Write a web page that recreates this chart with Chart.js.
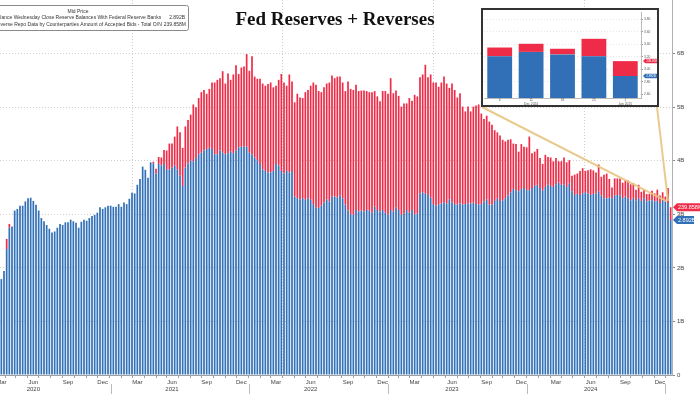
<!DOCTYPE html>
<html>
<head>
<meta charset="utf-8">
<script src="https://cdn.jsdelivr.net/npm/chart.js@4.4.1/dist/chart.umd.min.js"></script>
<style>
html, body { margin: 0; padding: 0; background: #fff; }
#wrap { position: relative; width: 700px; height: 394px; overflow: hidden; }
#main { position: absolute; left: 0; top: 0; }
#insetBox { position: absolute; left: 481px; top: 8px; width: 174px; height: 95px; border: 2px solid #333; background: #fff; }
#inset { display: block; }
</style>
</head>
<body>
<div id="wrap">
  <canvas id="main" width="700" height="394" style="width:700px;height:394px"></canvas>
  <div id="insetBox"><canvas id="inset" width="174" height="95" style="width:174px;height:95px"></canvas></div>
</div>
<script>
// weekly Wednesday values, first week 2020-03-11
const firstWeek = Date.UTC(2020, 2, 11);

// reserve balances with Federal Reserve Banks
const reserves = [
  1.79, 1.94, 2.35, 2.75, 2.77, 3.07, 3.10, 3.16, 3.16, 3.24,
  3.30, 3.31, 3.25, 3.18, 3.07, 2.93, 2.87, 2.80, 2.73, 2.66,
  2.68, 2.75, 2.82, 2.80, 2.85, 2.85, 2.90, 2.87, 2.84, 2.75,
  2.86, 2.90, 2.88, 2.93, 2.97, 2.99, 3.03, 3.13, 3.10, 3.13,
  3.16, 3.16, 3.14, 3.14, 3.19, 3.14, 3.22, 3.19, 3.29, 3.40,
  3.39, 3.55, 3.66, 3.89, 3.83, 3.68, 3.97, 3.95, 3.76, 3.94,
  3.91, 3.94,
  3.83, 3.84, 3.87, 3.91, 3.84, 3.72, 3.53, 3.87, 3.95, 4.00,
  3.99, 4.05, 4.12, 4.15, 4.19, 4.22, 4.24, 4.22, 4.12, 4.12,
  4.19, 4.15, 4.12, 4.14, 4.17, 4.14, 4.19, 4.25, 4.26, 4.26,
  4.26, 4.15, 4.12, 4.06, 4.01, 3.94, 3.84, 3.81, 3.78, 3.78,
  3.81, 3.94, 3.91, 3.81, 3.76, 3.81, 3.78, 3.81, 3.33, 3.30,
  3.28, 3.30, 3.27, 3.30, 3.27, 3.19, 3.12, 3.12, 3.16, 3.22,
  3.28, 3.24,
  3.33, 3.33, 3.31, 3.35, 3.30, 3.18, 3.07, 3.00, 2.99, 3.08,
  3.05, 3.07, 3.05, 3.08, 3.07, 3.03, 3.14, 3.08, 3.05, 3.08,
  3.03, 2.99, 3.08, 3.05, 3.12, 3.08, 2.99, 3.01, 3.08, 3.03,
  3.08, 3.00, 3.01, 3.39, 3.41, 3.39, 3.36, 3.31, 3.19, 3.16,
  3.18, 3.20, 3.22, 3.20, 3.28, 3.22, 3.19, 3.18, 3.20, 3.18,
  3.19, 3.20, 3.20, 3.22, 3.19, 3.18, 3.19, 3.24, 3.28, 3.18,
  3.18, 3.25,
  3.30, 3.25, 3.26, 3.30, 3.35, 3.41, 3.47, 3.45, 3.43, 3.47,
  3.49, 3.45, 3.45, 3.49, 3.53, 3.55, 3.49, 3.44, 3.51, 3.55,
  3.53, 3.51, 3.56, 3.59, 3.55, 3.55, 3.51, 3.58, 3.43, 3.36,
  3.38, 3.36, 3.39, 3.41, 3.39, 3.36, 3.38, 3.39, 3.43, 3.35,
  3.30, 3.30, 3.31, 3.30, 3.35, 3.36, 3.35, 3.30, 3.33, 3.30,
  3.26, 3.30, 3.26, 3.30, 3.25, 3.30, 3.24, 3.26, 3.26, 3.24,
  3.25, 3.21, 3.28, 3.24, 3.21, 2.892
];

// reverse repo, overnight accepted bids
const reverseRepo = [
  0, 0, 0.19, 0.07, 0, 0, 0, 0, 0, 0,
  0, 0, 0, 0, 0, 0, 0, 0, 0, 0,
  0, 0, 0, 0, 0, 0, 0, 0, 0, 0,
  0, 0, 0, 0, 0, 0, 0, 0, 0, 0,
  0, 0, 0, 0, 0, 0, 0, 0, 0, 0,
  0, 0, 0, 0, 0, 0, 0, 0.03, 0.09, 0.13,
  0.15, 0.26,
  0.36, 0.48, 0.45, 0.54, 0.80, 0.81, 0.71, 0.77, 0.81, 0.86,
  1.06, 0.95, 1.05, 1.13, 1.13, 1.03, 1.10, 1.24, 1.34, 1.39,
  1.35, 1.52, 1.32, 1.49, 1.34, 1.47, 1.59, 1.37, 1.48, 1.50,
  1.73, 1.53, 1.83, 1.51, 1.52, 1.59, 1.60, 1.59, 1.65, 1.68,
  1.56, 1.46, 1.60, 1.81, 1.70, 1.59, 1.83, 1.67, 1.76, 1.95,
  1.90, 1.87, 2.01, 2.02, 2.13, 2.27, 2.30, 2.18, 2.12, 2.15,
  2.16, 2.22,
  2.26, 2.21, 2.26, 2.22, 2.16, 2.12, 2.41, 2.34, 2.33, 2.34,
  2.25, 2.24, 2.26, 2.22, 2.21, 2.25, 2.16, 2.12, 2.06, 2.22,
  2.27, 2.26, 2.46, 2.21, 2.19, 2.13, 2.02, 2.06, 1.99, 2.14,
  2.04, 2.23, 2.19, 2.17, 2.20, 2.40, 2.20, 2.30, 2.27, 2.30,
  2.20, 2.26, 2.35, 2.24, 2.08, 2.22, 2.13, 2.00, 2.06, 1.83,
  1.73, 1.81, 1.72, 1.79, 1.84, 1.87, 1.69, 1.54, 1.56, 1.55,
  1.49, 1.32,
  1.23, 1.22, 1.13, 1.06, 1.04, 0.99, 0.85, 0.86, 0.74, 0.84,
  0.77, 0.80, 1.00, 0.65, 0.64, 0.67, 0.56, 0.50, 0.60, 0.52,
  0.53, 0.48, 0.49, 0.40, 0.44, 0.51, 0.46, 0.43, 0.29, 0.38,
  0.38, 0.45, 0.47, 0.40, 0.43, 0.48, 0.44, 0.39, 0.50, 0.35,
  0.44, 0.46, 0.35, 0.20, 0.32, 0.31, 0.32, 0.29, 0.30, 0.33,
  0.30, 0.28, 0.20, 0.25, 0.17, 0.16, 0.14, 0.12, 0.18, 0.15,
  0.21, 0.14, 0.13, 0.09, 0.28, 0.239858
];

const yTicks = [0, 1, 2, 3, 4, 5, 6];
const insetTicks = [2.6, 2.8, 3.0, 3.2, 3.4, 3.6, 3.8];
const monthNames = ['Jan','Feb','Mar','Apr','May','Jun','Jul','Aug','Sep','Oct','Nov','Dec'];
const quarterMonths = [2, 5, 8, 11];

const BLUE = '#3170b6';
const RED = '#ee2c47';
const TAN = 'rgba(232, 196, 128, 0.9)';

Chart.defaults.font.family = "'Liberation Sans', Arial, sans-serif";
Chart.defaults.color = '#444';

const weeks = reserves.map((v, i) => new Date(firstWeek + i * 7 * 86400000));
const labels = weeks.map(d => d.toISOString().slice(0, 10));

function isMonthStart(i) {
  return i === 0 || weeks[i].getUTCMonth() !== weeks[i - 1].getUTCMonth();
}
function isQuarterStart(i) {
  return isMonthStart(i) && quarterMonths.includes(weeks[i].getUTCMonth());
}

const lastIdx = reserves.length - 1;
const fmtRes = reserves[lastIdx].toFixed(3) + 'B';
const fmtRrp = (reverseRepo[lastIdx] * 1000).toFixed(3) + 'M';

function drawFlag(ctx, x, y, w, h, text, color, size) {
  ctx.save();
  ctx.fillStyle = color;
  ctx.beginPath();
  ctx.moveTo(x, y);
  ctx.lineTo(x + h / 2, y - h / 2);
  ctx.lineTo(x + w, y - h / 2);
  ctx.lineTo(x + w, y + h / 2);
  ctx.lineTo(x + h / 2, y + h / 2);
  ctx.closePath();
  ctx.fill();
  ctx.fillStyle = '#fff';
  ctx.font = size + "px 'Liberation Sans', Arial";
  ctx.textAlign = 'left';
  ctx.textBaseline = 'middle';
  ctx.fillText(text, x + h / 2 + 1, y + 0.5);
  ctx.restore();
}

const mainDecor = {
  id: 'mainDecor',
  afterDraw(chart) {
    const ctx = chart.ctx;
    const xs = chart.scales.x, ys = chart.scales.y;
    const area = chart.chartArea;

    // year separators and callout lines
    ctx.save();
    ctx.strokeStyle = '#bbb';
    ctx.lineWidth = 1;
    weeks.forEach((d, i) => {
      if (i > 0 && d.getUTCMonth() === 0 && isMonthStart(i)) {
        const x = Math.round(xs.getPixelForValue(i) - xs.width / labels.length / 2) - 3.5;
        ctx.beginPath();
        ctx.moveTo(x, area.bottom + 9);
        ctx.lineTo(x, 394);
        ctx.stroke();
      }
    });
    ctx.strokeStyle = TAN;
    ctx.lineWidth = 2;
    const ax = xs.getPixelForValue(lastIdx - 1);
    const ay = ys.getPixelForValue(3.25);
    ctx.beginPath();
    ctx.moveTo(482, 107); ctx.lineTo(ax - 2, ay);
    ctx.moveTo(657, 107); ctx.lineTo(ax, ay);
    ctx.stroke();
    ctx.restore();

    // title
    ctx.save();
    ctx.fillStyle = '#111';
    ctx.font = "bold 19px 'Liberation Serif', 'Times New Roman', serif";
    ctx.textAlign = 'center';
    ctx.textBaseline = 'middle';
    ctx.fillText('Fed Reserves + Reverses', 335, 20);
    ctx.restore();

    // legend box
    ctx.save();
    ctx.fillStyle = '#fff';
    ctx.strokeStyle = '#8a8a8a';
    ctx.lineWidth = 1;
    ctx.beginPath();
    ctx.roundRect(-30.5, 5.5, 219, 25, 2);
    ctx.fill();
    ctx.stroke();
    ctx.fillStyle = '#333';
    ctx.font = "5px 'Liberation Sans', Arial";
    ctx.textBaseline = 'middle';
    ctx.textAlign = 'center';
    ctx.fillText('Mid Price', 78, 12);
    ctx.textAlign = 'right';
    ctx.fillText(fmtRes, 185, 18);
    ctx.fillText('Balance Wednesday Close Reserve Balances With Federal Reserve Banks', 185 - ctx.measureText(fmtRes).width - 8, 18);
    ctx.fillText(fmtRrp, 186, 24.5);
    ctx.fillText('Reverse Repo Data by Counterparties Amount of Accepted Bids - Total O/N', 186 - ctx.measureText(fmtRrp).width - 2, 24.5);
    ctx.restore();

    // last value flags
    drawFlag(ctx, 673, ys.getPixelForValue(reserves[lastIdx] + reverseRepo[lastIdx]), 27, 8, fmtRrp, RED, 5.5);
    drawFlag(ctx, 673, ys.getPixelForValue(reserves[lastIdx]), 21, 8, fmtRes, BLUE, 5.5);
  }
};

new Chart(document.getElementById('main'), {
  type: 'bar',
  data: {
    labels: labels,
    datasets: [
      { label: 'Reserve Balances', data: reserves, backgroundColor: BLUE },
      { label: 'Reverse Repo', data: reverseRepo, backgroundColor: RED }
    ]
  },
  options: {
    responsive: false,
    animation: false,
    events: [],
    layout: { padding: 0 },
    datasets: { bar: { categoryPercentage: 1, barPercentage: 0.64 } },
    plugins: { legend: { display: false }, tooltip: { enabled: false } },
    scales: {
      x: {
        stacked: true,
        grid: {
          color: c => (c.index !== undefined && isQuarterStart(c.index)) ? '#cfcfcf' : 'rgba(0,0,0,0)',
          tickColor: '#a0a0a0',
          tickLength: 3
        },
        border: { color: '#a0a0a0', dash: [1, 2] },
        ticks: {
          autoSkip: false,
          maxRotation: 0,
          padding: 1,
          font: { size: 6 },
          color: '#444',
          callback: (v, i) => {
            if (!isMonthStart(i)) return null;
            const m = weeks[i].getUTCMonth();
            if (!quarterMonths.includes(m)) return '';
            return m === 5 ? [monthNames[m], String(weeks[i].getUTCFullYear())] : monthNames[m];
          }
        },
        afterFit: s => { s.height = 19; s.paddingLeft = 0; s.paddingRight = 0; }
      },
      y: {
        stacked: true,
        position: 'right',
        min: 0,
        max: 7,
        grid: { color: '#cfcfcf', tickColor: '#888', tickLength: 3 },
        border: { color: '#b0b0b0', dash: [1, 2] },
        afterBuildTicks: s => { s.ticks = yTicks.map(v => ({ value: v })); },
        ticks: {
          padding: 2,
          font: { size: 6 },
          color: '#444',
          callback: v => v === 0 ? '0' : v + 'B'
        },
        afterFit: s => { s.width = 28; s.paddingTop = 0; s.paddingBottom = 0; }
      }
    }
  },
  plugins: [mainDecor]
});

// inset: last five weeks
const insetRes = reserves.slice(-5);
const insetRrp = reverseRepo.slice(-5);
const insetWeeks = weeks.slice(-5);
const insetLabels = insetWeeks.map((d, i) => {
  const day = String(d.getUTCDate());
  if (i === 1) return [day, monthNames[d.getUTCMonth()] + ' ' + d.getUTCFullYear()];
  if (i > 0 && d.getUTCMonth() !== insetWeeks[i - 1].getUTCMonth()) return [day, monthNames[d.getUTCMonth()] + ' ' + d.getUTCFullYear()];
  return day;
});

const insetDecor = {
  id: 'insetDecor',
  afterDraw(chart) {
    const ys = chart.scales.y;
    const ctx = chart.ctx;
    drawFlag(ctx, 160, ys.getPixelForValue(insetRes[4] + insetRrp[4]), 14, 4.5, fmtRrp, RED, 3);
    drawFlag(ctx, 160, ys.getPixelForValue(insetRes[4]), 14, 4.5, fmtRes, BLUE, 3);
  }
};

new Chart(document.getElementById('inset'), {
  type: 'bar',
  data: {
    labels: insetLabels,
    datasets: [
      { data: insetRes, backgroundColor: BLUE },
      { data: insetRrp, backgroundColor: RED }
    ]
  },
  options: {
    responsive: false,
    animation: false,
    events: [],
    layout: { padding: { top: 2, left: 1 } },
    datasets: { bar: { categoryPercentage: 1, barPercentage: 0.79 } },
    plugins: { legend: { display: false }, tooltip: { enabled: false } },
    scales: {
      x: {
        stacked: true,
        grid: { display: false, drawTicks: false },
        border: { color: '#bbb' },
        ticks: { maxRotation: 0, padding: 0.5, font: { size: 3.3, lineHeight: 1.1 }, color: '#555' },
        afterFit: s => { s.height = 7; s.paddingLeft = 0; s.paddingRight = 0; }
      },
      y: {
        stacked: true,
        position: 'right',
        min: 2.54,
        max: 3.92,
        grid: { color: '#e6e6e6', tickColor: '#999', tickLength: 2 },
        border: { color: '#bbb', dash: [1, 2] },
        afterBuildTicks: s => { s.ticks = insetTicks.map(v => ({ value: v })); },
        ticks: { padding: 1, font: { size: 3.3 }, color: '#555', callback: v => v.toFixed(2) },
        afterFit: s => { s.width = 16; s.paddingTop = 0; s.paddingBottom = 0; }
      }
    }
  },
  plugins: [insetDecor]
});
</script>
</body>
</html>
